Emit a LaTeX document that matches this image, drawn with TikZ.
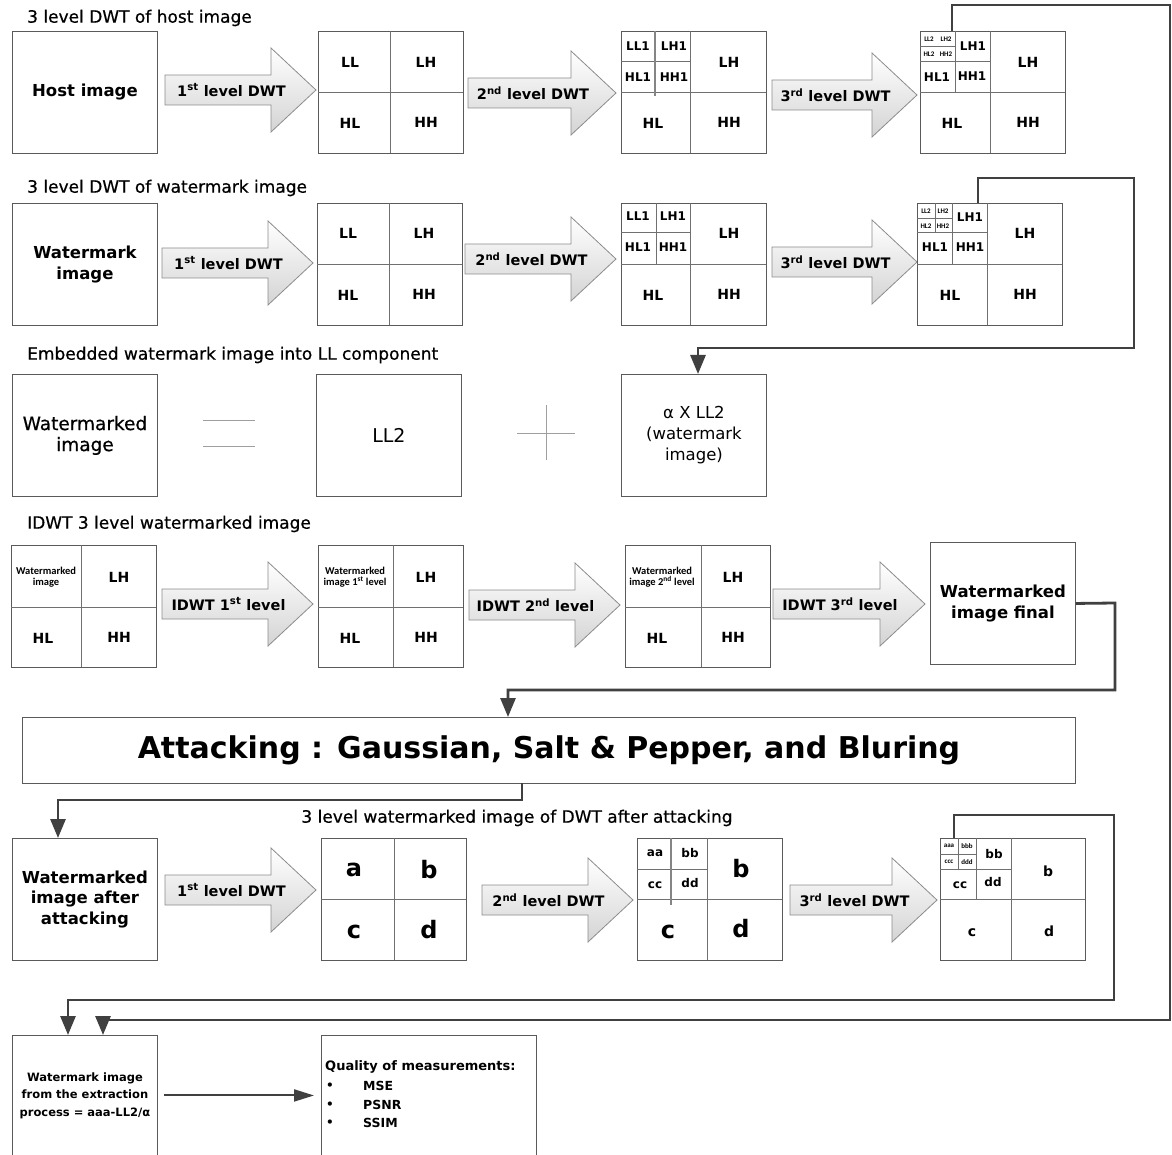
\documentclass[tikz,border=0pt]{standalone}
\usepackage{fontspec}
\setmainfont{DejaVu Sans}
\newfontfamily\calfont{Carlito}
\newfontfamily\semifont{DejaVu Sans}[FakeBold=0.6]
\usetikzlibrary{arrows.meta,calc}
\definecolor{boxc}{HTML}{5A5A5A}
\definecolor{gridc}{HTML}{707070}
\definecolor{connc}{HTML}{404040}
\definecolor{arrc}{HTML}{8C8C8C}
\newcommand\blkarrow[5]{%
  \path[blk] (#2,{#4-15}) -- ({#3-45},{#4-15}) -- ({#3-45},{#4-42}) -- (#3,#4) -- ({#3-45},{#4+42}) -- ({#3-45},{#4+15}) -- (#2,{#4+15}) -- cycle;
  \node[arrlab] (#1) at ({(#2+#3)/2-9},#4) {#5};}
\begin{document}
\begin{tikzpicture}[x=1pt,y=-1pt,
  box/.style={draw=boxc,line width=0.9pt,fill=white,inner sep=0pt,minimum width=145pt,minimum height=122pt,anchor=north west,align=center,font=\bfseries\fontsize{16.5}{20.5}\selectfont},
  gl/.style={draw=gridc,line width=0.8pt},
  thk/.style={draw=gridc!85,line width=2.2pt},
  sym/.style={draw=gray!75,line width=0.9pt},
  lab/.style={font=\bfseries\fontsize{14}{16}\selectfont,inner sep=0pt},
  slab/.style={font=\bfseries\fontsize{12}{14}\selectfont,inner sep=0pt},
  tlab/.style={font=\calfont\bfseries\fontsize{7}{8}\selectfont,inner sep=0pt},
  clab/.style={font=\calfont\bfseries\fontsize{10.5}{11.5}\selectfont,inner sep=0pt,align=center},
  big/.style={font=\bfseries\fontsize{24}{26}\selectfont,inner sep=0pt},
  title/.style={font=\semifont\fontsize{17}{19}\selectfont,anchor=west,inner sep=0pt},
  arrlab/.style={font=\bfseries\fontsize{14.5}{17}\selectfont,inner sep=0pt},
  blk/.style={draw=arrc,line width=0.8pt,top color=white,bottom color=black!17},
  conn/.style={draw=connc,line width=2.8pt},
  connarr/.style={conn,-{Triangle[width=15pt,length=19pt]}},
]
\useasboundingbox (0,0) rectangle (1172,1155);
\fill[white] (0,0) rectangle (1172,1155);
\clip (0,0) rectangle (1172,1155);

% ---------- Row 1: host ----------
\node[title] (t1) at (27,18) {3 level DWT of host image};
\node[box] (h1) at (12,31) {Host image};
\blkarrow{a11}{165}{316}{90}{1\textsuperscript{st} level DWT}
\node[box] (h2) at (318,31) {};
\draw[gl] (390,31)--(390,153) (318,92)--(463,92);
\node[lab] (h2a) at (350,62) {LL};
\node[lab] (h2b) at (426,62) {LH};
\node[lab] (h2c) at (350,123) {HL};
\node[lab] (h2d) at (426,122) {HH};
\blkarrow{a12}{468}{616}{93}{2\textsuperscript{nd} level DWT}
\node[box] (h3) at (621,31) {};
\draw[gl] (690,31)--(690,153) (621,92)--(766,92) (621,61)--(690,61);
\draw[thk] (655,31)--(655,96);
\node[slab] (h3a) at (638,46) {LL1};
\node[slab] (h3b) at (674,46) {LH1};
\node[slab] (h3c) at (638,77) {HL1};
\node[slab] (h3d) at (674,77) {HH1};
\node[lab] (h3e) at (729,62) {LH};
\node[lab] (h3f) at (653,123) {HL};
\node[lab] (h3g) at (729,122) {HH};
\blkarrow{a13}{772}{917}{95}{3\textsuperscript{rd} level DWT}
\node[box] (h4) at (920,31) {};
\draw[gl] (990,31)--(990,153) (920,92)--(1065,92) (955,31)--(955,92) (920,61)--(990,61) (920,46)--(955,46);
\node[tlab] (h4a) at (929,39) {LL2};
\node[tlab] (h4b) at (946,39) {LH2};
\node[tlab] (h4c) at (929,54) {HL2};
\node[tlab] (h4d) at (946,54) {HH2};
\node[slab] (h4e) at (973,46) {LH1};
\node[slab] (h4f) at (937,77) {HL1};
\node[slab] (h4g) at (972,76) {HH1};
\node[lab] (h4h) at (1028,62) {LH};
\node[lab] (h4i) at (952,123) {HL};
\node[lab] (h4j) at (1028,122) {HH};

% ---------- Row 2: watermark ----------
\node[title] (t2) at (27,188) {3 level DWT of watermark image};
\node[box] (w1) at (12,203) {Watermark\\image};
\blkarrow{a21}{162}{313}{263}{1\textsuperscript{st} level DWT}
\node[box] (w2) at (317,203) {};
\draw[gl] (389,203)--(389,325) (317,264)--(462,264);
\node[lab] (w2a) at (348,233) {LL};
\node[lab] (w2b) at (424,233) {LH};
\node[lab] (w2c) at (348,295) {HL};
\node[lab] (w2d) at (424,294) {HH};
\blkarrow{a22}{465}{616}{259}{2\textsuperscript{nd} level DWT}
\node[box] (w3) at (621,203) {};
\draw[gl] (690,203)--(690,325) (621,264)--(766,264) (656,203)--(656,264) (621,232)--(690,232);
\node[slab] (w3a) at (638,216) {LL1};
\node[slab] (w3b) at (673,216) {LH1};
\node[slab] (w3c) at (638,247) {HL1};
\node[slab] (w3d) at (673,247) {HH1};
\node[lab] (w3e) at (729,233) {LH};
\node[lab] (w3f) at (653,295) {HL};
\node[lab] (w3g) at (729,294) {HH};
\blkarrow{a23}{772}{917}{262}{3\textsuperscript{rd} level DWT}
\node[box] (w4) at (917,203) {};
\draw[gl] (987,203)--(987,325) (917,264)--(1062,264) (952,203)--(952,264) (917,232)--(987,232) (935,203)--(935,232) (917,218)--(952,218);
\node[tlab] (w4a) at (926,211) {LL2};
\node[tlab] (w4b) at (943,211) {LH2};
\node[tlab] (w4c) at (926,226) {HL2};
\node[tlab] (w4d) at (943,226) {HH2};
\node[slab] (w4e) at (970,217) {LH1};
\node[slab] (w4f) at (935,247) {HL1};
\node[slab] (w4g) at (970,247) {HH1};
\node[lab] (w4h) at (1025,233) {LH};
\node[lab] (w4i) at (950,295) {HL};
\node[lab] (w4j) at (1025,294) {HH};

% ---------- Row 3: embedding ----------
\node[title] (t3) at (27,355) {Embedded watermark image into LL component};
\node[box,font=\semifont\fontsize{18.5}{21}\selectfont] (e1) at (12,374) {Watermarked\\image};
\draw[sym] (203,420)--(255,420) (203,446)--(255,446);
\node[box,font=\fontsize{19}{21}\selectfont] (e2) at (316,374) {LL2};
\draw[sym] (517,433)--(575,433) (546,405)--(546,460);
\node[box,font=\fontsize{16.5}{21}\selectfont] (e3) at (621,374) {α X LL2\\(watermark\\image)};

% ---------- Row 4: IDWT ----------
\node[title] (t4) at (27,524) {IDWT 3 level watermarked image};
\node[box] (d1) at (11,545) {};
\draw[gl] (81,545)--(81,667) (11,607)--(156,607);
\node[clab] (d1a) at (46,577) {Watermarked\\image};
\node[lab] (d1b) at (119,577) {LH};
\node[lab] (d1c) at (43,638) {HL};
\node[lab] (d1d) at (119,637) {HH};
\blkarrow{a41}{162}{313}{604}{IDWT 1\textsuperscript{st} level}
\node[box] (d2) at (318,545) {};
\draw[gl] (393,545)--(393,667) (318,607)--(463,607);
\node[clab] (d2a) at (355,577) {Watermarked\\image 1\textsuperscript{st} level};
\node[lab] (d2b) at (426,577) {LH};
\node[lab] (d2c) at (350,638) {HL};
\node[lab] (d2d) at (426,637) {HH};
\blkarrow{a42}{469}{620}{605}{IDWT 2\textsuperscript{nd} level}
\node[box] (d3) at (625,545) {};
\draw[gl] (701,545)--(701,667) (625,607)--(770,607);
\node[clab] (d3a) at (662,577) {Watermarked\\image 2\textsuperscript{nd} level};
\node[lab] (d3b) at (733,577) {LH};
\node[lab] (d3c) at (657,638) {HL};
\node[lab] (d3d) at (733,637) {HH};
\blkarrow{a43}{773}{925}{604}{IDWT 3\textsuperscript{rd} level}
\node[box] (d4) at (930,542) {Watermarked\\image final};

% ---------- Attacking ----------
\node[draw=boxc,line width=0.9pt,fill=white,minimum width=1053pt,minimum height=66pt,anchor=north west,inner sep=0pt,font=\bfseries\fontsize{30}{34}\selectfont] (att) at (22,717) {Attacking : Gaussian, Salt \& Pepper, and Bluring};

% ---------- Row 5: after attacking ----------
\node[font=\semifont\fontsize{17}{19}\selectfont,inner sep=0pt] (t5) at (517,818) {3 level watermarked image of DWT after attacking};
\node[box] (k1) at (12,838) {Watermarked\\image after\\attacking};
\blkarrow{a51}{165}{316}{890}{1\textsuperscript{st} level DWT}
\node[box] (k2) at (321,838) {};
\draw[gl] (394,838)--(394,960) (321,899)--(466,899);
\node[big] (k2a) at (354,870) {a};
\node[big] (k2b) at (429,870) {b};
\node[big] (k2c) at (354,932) {c};
\node[big] (k2d) at (429,930) {d};
\blkarrow{a52}{482}{633}{900}{2\textsuperscript{nd} level DWT}
\node[box] (k3) at (637,838) {};
\draw[gl] (707,838)--(707,960) (637,899)--(782,899) (637,869)--(707,869);
\draw[thk] (671,838)--(671,905);
\node[slab] (k3a) at (655,853) {aa};
\node[slab] (k3b) at (690,853) {bb};
\node[slab] (k3c) at (655,885) {cc};
\node[slab] (k3d) at (690,883) {dd};
\node[big] (k3e) at (741,869) {b};
\node[big] (k3f) at (668,932) {c};
\node[big] (k3g) at (741,929) {d};
\blkarrow{a53}{790}{937}{900}{3\textsuperscript{rd} level DWT}
\node[box] (k4) at (940,838) {};
\draw[gl] (1011,838)--(1011,960) (940,899)--(1085,899) (976,838)--(976,899) (940,869)--(1011,869) (958,838)--(958,869) (940,854)--(976,854);
\node[tlab] (k4a) at (949,846) {aaa};
\node[tlab] (k4b) at (967,846) {bbb};
\node[tlab] (k4c) at (949,862) {ccc};
\node[tlab] (k4d) at (967,862) {ddd};
\node[slab] (k4e) at (994,854) {bb};
\node[slab] (k4f) at (960,885) {cc};
\node[slab] (k4g) at (993,882) {dd};
\node[lab] (k4h) at (1048,871) {b};
\node[lab] (k4i) at (972,933) {c};
\node[lab] (k4j) at (1049,931) {d};

% ---------- Row 6: extraction ----------
\node[box,minimum height=120pt,font=\bfseries\fontsize{11.5}{17.5}\selectfont] (ex) at (12,1035) {Watermark image\\from the extraction\\process = aaa-LL2/α};
\node[box,minimum width=215pt,minimum height=120pt] (qm) at (321,1035) {};
\node[anchor=west,inner sep=0pt,font=\bfseries\fontsize{13}{15}\selectfont] (qmt) at (325,1067) {Quality of measurements:};
\node[inner sep=0pt,font=\bfseries\fontsize{12}{14}\selectfont] (qb1) at (330,1086) {•};
\node[inner sep=0pt,font=\bfseries\fontsize{12}{14}\selectfont] (qb2) at (330,1105) {•};
\node[inner sep=0pt,font=\bfseries\fontsize{12}{14}\selectfont] (qb3) at (330,1123) {•};
\node[anchor=west,inner sep=0pt,font=\bfseries\fontsize{12.5}{14}\selectfont] (q1) at (363,1086) {MSE};
\node[anchor=west,inner sep=0pt,font=\bfseries\fontsize{12.5}{14}\selectfont] (q2) at (363,1105) {PSNR};
\node[anchor=west,inner sep=0pt,font=\bfseries\fontsize{12.5}{14}\selectfont] (q3) at (363,1123) {SSIM};
\draw[draw=connc,line width=2pt,-{Triangle[width=12pt,length=20pt]},shorten <=6pt,shorten >=7pt] (ex.east) -- (qm.west);

% ---------- Connectors ----------
\coordinate (hs) at (952,31);
\coordinate (he) at (103,1020);
\draw[connarr] (hs) -- (952,5) -- (1170,5) -- (1170,1020) -- (he) -- (he |- ex.north);
\coordinate (ws) at (978,203);
\coordinate (we) at (698,348);
\draw[connarr] (ws) -- (978,178) -- (1134,178) -- (1134,348) -- (we) -- (we |- e3.north);
\coordinate (fe) at (508,690);
\draw[connarr] (d4.east) -- (1115,603) -- (1115,690) -- (fe) -- (fe |- att.north);
\coordinate (as) at (522,783);
\coordinate (ae) at (58,800);
\draw[connarr] (as) -- (522,800) -- (ae) -- (ae |- k1.north);
\coordinate (ks) at (954,838);
\coordinate (ke) at (68,1000);
\draw[connarr] (ks) -- (954,815) -- (1114,815) -- (1114,1000) -- (ke) -- (ke |- ex.north);
\end{tikzpicture}
\end{document}
